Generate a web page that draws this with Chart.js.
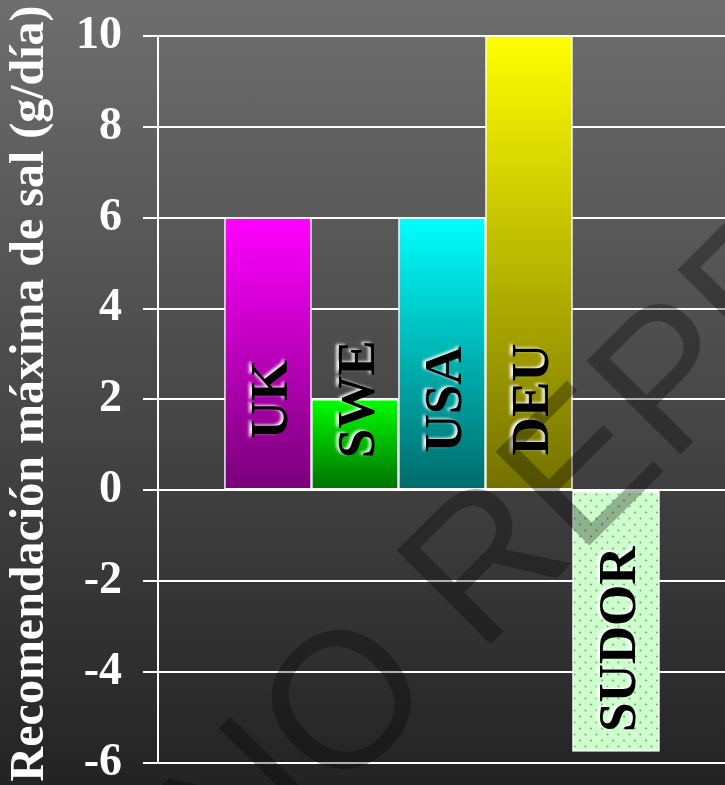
<!DOCTYPE html>
<html>
<head>
<meta charset="utf-8">
<script src="https://cdn.jsdelivr.net/npm/chart.js@4/dist/chart.umd.min.js"></script>
<style>
  html, body { margin:0; padding:0; }
  body { width:725px; height:785px; background: linear-gradient(#6e6e6e, #232323); overflow:hidden; }
  #wrap { width:725px; height:785px; position:relative; }
  canvas { display:block; }
</style>
</head>
<body>
<div id="wrap"><canvas id="chart" width="725" height="785"></canvas></div>
<script>
// Data
const categories = ['UK', 'SWE', 'USA', 'DEU', 'SUDOR'];
const saltValues = [6, 2, 6, 10, -5.75];
const yTicks = [-6, -4, -2, 0, 2, 4, 6, 8, 10];
const axisTitle = 'Recomendación máxima de sal (g/día)';

// Bar colours (top -> bottom of each bar)
const topColors = ['#ff00ff', '#00ff00', '#00ffff', '#ffff00'];
const bottomColors = ['#780078', '#006e00', '#006a6a', '#747000'];

const SERIF = '"Liberation Serif", "Times New Roman", serif';

// dotted fill for the SUDOR bar
function dotPattern() {
    const c = document.createElement('canvas');
    c.width = 11; c.height = 12;
    const g = c.getContext('2d');
    g.fillStyle = '#ccffcc';
    g.fillRect(0, 0, 11, 12);
    g.fillStyle = '#9a9a9a';
    [[2.5, 2.5], [8, 8.5]].forEach(([x, y]) => {
        g.beginPath(); g.arc(x, y, 1.1, 0, Math.PI * 2); g.fill();
    });
    return g.createPattern(c, 'repeat');
}
const sudorFill = dotPattern();

function barFill(ctx) {
    const i = ctx.dataIndex;
    const chart = ctx.chart;
    if (!chart.chartArea) return topColors[0];
    if (saltValues[i] < 0) return sudorFill;
    const y = chart.scales.y;
    const g = chart.ctx.createLinearGradient(0, y.getPixelForValue(saltValues[i]), 0, y.getPixelForValue(0));
    g.addColorStop(0, topColors[i]);
    g.addColorStop(1, bottomColors[i]);
    return g;
}

// vertical labels written inside the bars
const barLabels = {
    id: 'barLabels',
    afterDatasetsDraw(chart) {
        const ctx = chart.ctx;
        const meta = chart.getDatasetMeta(0);
        const y = chart.scales.y;
        ctx.save();
        ctx.font = 'bold 53px ' + SERIF;
        ctx.textAlign = 'center';
        ctx.textBaseline = 'middle';
        ctx.fillStyle = '#000';
        ctx.shadowColor = 'rgba(255,255,255,0.95)';
        ctx.shadowBlur = 3;
        ctx.shadowOffsetX = -3;
        ctx.shadowOffsetY = -1;
        meta.data.forEach((bar, i) => {
            const v = saltValues[i];
            const cy = v > 0 ? y.getPixelForValue(2) : y.getPixelForValue(v * 0.57);
            ctx.save();
            ctx.translate(bar.x + 5, cy);
            ctx.rotate(-Math.PI / 2);
            ctx.fillText(categories[i], 0, 0);
            ctx.restore();
        });
        ctx.restore();
    }
};

// diagonal watermark over everything
const watermark = {
    id: 'watermark',
    afterDraw(chart) {
        const ctx = chart.ctx;
        ctx.save();
        ctx.translate(237, 898);
        ctx.rotate(-Math.PI / 4);
        ctx.font = '193px "Liberation Sans", Arial, sans-serif';
        ctx.fillStyle = 'rgba(0,0,0,0.3)';
        ctx.fillText('NO REPRODUCIR', 0, 0);
        ctx.restore();
    }
};

new Chart(document.getElementById('chart'), {
    type: 'bar',
    data: {
        datasets: [{
            data: saltValues.map((v, i) => ({ x: i + 1, y: v })),
            backgroundColor: barFill,
            borderColor: '#ffffff',
            borderWidth: 1.5,
            borderSkipped: false,
            barPercentage: 1,
            categoryPercentage: 1
        }]
    },
    options: {
        responsive: false,
        animation: false,
        devicePixelRatio: 1,
        layout: { padding: { top: 36, bottom: 21, left: 0, right: 0 } },
        plugins: { legend: { display: false }, tooltip: { enabled: false } },
        scales: {
            x: { type: 'linear', min: -0.264, max: 6.253, offset: false, display: false },
            y: {
                min: yTicks[0],
                max: yTicks[yTicks.length - 1],
                afterBuildTicks: s => { s.ticks = yTicks.map(v => ({ value: v })); },
                afterFit: s => { s.width = 158; },
                grid: { color: '#ffffff', lineWidth: 2, tickLength: 15, drawTicks: true },
                border: { color: '#ffffff', width: 2 },
                ticks: {
                    color: '#ffffff',
                    padding: 21,
                    font: { family: SERIF, size: 46, weight: 'bold', lineHeight: 0.05 }
                },
                title: {
                    display: true,
                    text: ' ' + axisTitle, // leading space nudges the title up a little
                    color: '#ffffff',
                    padding: { top: 2, bottom: 0 },
                    font: { family: SERIF, size: 48, weight: 'bold', lineHeight: 1.2 }
                }
            }
        }
    },
    plugins: [barLabels, watermark]
});
</script>
</body>
</html>
